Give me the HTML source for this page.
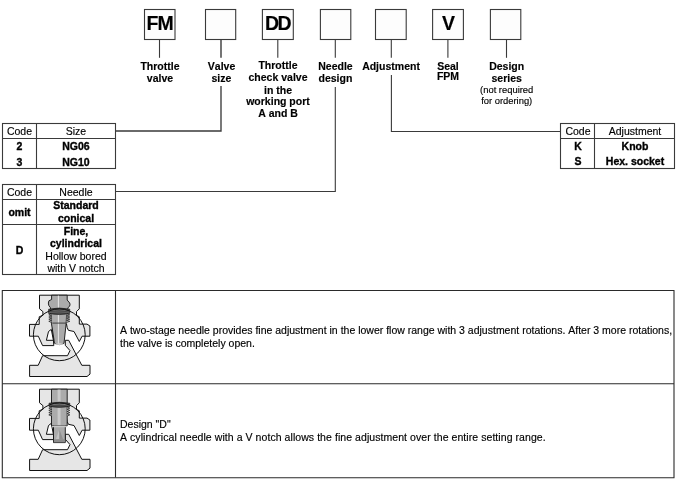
<!DOCTYPE html>
<html><head><meta charset="utf-8">
<style>
html,body{margin:0;padding:0;background:#fff;}
svg{display:block;filter:grayscale(1)}
text{font-family:"Liberation Sans",sans-serif;fill:#000;font-kerning:none;stroke:#000;stroke-width:0.15}
.b{font-weight:bold;stroke-width:0.35}
.l{stroke:#3a3a3a;stroke-width:1.1;fill:none}
.bx{stroke:#3a3a3a;stroke-width:1.1;fill:#fdfdfc}
</style></head><body>
<svg width="680" height="484" viewBox="0 0 680 484">
<rect width="680" height="484" fill="#fff"/>
<!-- code boxes -->
<g class="bx">
<rect x="144.5" y="9.5" width="30.5" height="30"/>
<rect x="205.5" y="9.5" width="30.2" height="30"/>
<rect x="262.4" y="9.5" width="30.9" height="30"/>
<rect x="320.4" y="9.5" width="30.4" height="30"/>
<rect x="375.5" y="9.5" width="30.7" height="30"/>
<rect x="432.6" y="9.5" width="30.8" height="30"/>
<rect x="490.4" y="9.5" width="30.4" height="30"/>
</g>
<g class="l">
<path d="M159.5 40V57.8"/>
<path d="M221 40V57.8" stroke-width="1.4"/>
<path d="M277.8 40V57.8"/>
<path d="M335.3 40V57.8"/>
<path d="M391.3 40V57.8"/>
<path d="M447.9 40V57.8"/>
<path d="M506.5 40V57.8"/>
<path d="M221 86V131H116" stroke-width="1.35"/>
<path d="M335.3 87V191.5H116"/>
<path d="M391.4 75V131.5H560.5"/>
</g>
<g class="b" font-size="19.5" text-anchor="middle" letter-spacing="-1" style="stroke-width:0.15">
<text x="159.6" y="30.4">FM</text>
<text x="277.6" y="30.4" letter-spacing="-1.4">DD</text>
<text x="448" y="30.4">V</text>
</g>
<g class="b" font-size="10.5" text-anchor="middle">
<text x="160" y="69.5">Throttle</text>
<text x="160" y="82">valve</text>
<text x="221.6" y="69.5">Valve</text>
<text x="221.4" y="82">size</text>
<text x="278" y="69.2">Throttle</text>
<text x="278" y="81.1">check valve</text>
<text x="278" y="93.5">in the</text>
<text x="278" y="105.3">working port</text>
<text x="278" y="117.3">A and B</text>
<text x="335.5" y="69.5">Needle</text>
<text x="335.4" y="82">design</text>
<text x="391" y="69.5">Adjustment</text>
<text x="448" y="69.5">Seal</text>
<text x="448" y="80">FPM</text>
<text x="506.7" y="69.5">Design</text>
<text x="506.7" y="82">series</text>
</g>
<g font-size="9.4" text-anchor="middle">
<text x="506.7" y="93.2">(not required</text>
<text x="506.7" y="104.2">for ordering)</text>
</g>
<!-- size table -->
<g class="l">
<rect x="2.5" y="123.5" width="113" height="45"/>
<path d="M2.5 138.5H115.5M36.5 123.5V168.5"/>
</g>
<g font-size="10.5" text-anchor="middle">
<text x="19.5" y="135">Code</text>
<text x="76" y="135">Size</text>
<text class="b" x="19.5" y="150.4">2</text>
<text class="b" x="76" y="150.4">NG06</text>
<text class="b" x="19.5" y="165.5">3</text>
<text class="b" x="76" y="165.5">NG10</text>
</g>
<!-- needle table -->
<g class="l">
<rect x="2.5" y="184.5" width="113" height="90"/>
<path d="M2.5 199.5H115.5M2.5 224.5H115.5M36.5 184.5V274.5"/>
</g>
<g font-size="10.5" text-anchor="middle">
<text x="19.5" y="196">Code</text>
<text x="76" y="196">Needle</text>
<text class="b" x="19.5" y="216">omit</text>
<text class="b" x="76" y="209.3">Standard</text>
<text class="b" x="76" y="222.3">conical</text>
<text class="b" x="19.5" y="253.6">D</text>
<text class="b" x="76" y="234.6">Fine,</text>
<text class="b" x="76" y="247">cylindrical</text>
<text x="76" y="260">Hollow bored</text>
<text x="76" y="272">with V notch</text>
</g>
<!-- adjustment table -->
<g class="l">
<rect x="560.5" y="123.5" width="114" height="45"/>
<path d="M560.5 138.5H674.5M594.5 123.5V168.5"/>
</g>
<g font-size="10.5" text-anchor="middle">
<text x="578" y="135">Code</text>
<text x="635" y="135">Adjustment</text>
<text class="b" x="578" y="150">K</text>
<text class="b" x="635" y="150">Knob</text>
<text class="b" x="578" y="165">S</text>
<text class="b" x="635" y="165">Hex. socket</text>
</g>
<!-- description table -->
<g class="l" style="stroke:#2a2a2a">
<path d="M2.3 290.5V478M674 290.5V478M1.8 290.5H674.5M1.8 477.8H674.5"/>
<path d="M2.3 383.8H674M115.5 290.5V477.5"/>
</g>
<g font-size="10.5">
<text x="120" y="333.5">A two-stage needle provides fine adjustment in the lower flow range with 3 adjustment rotations. After 3 more rotations,</text>
<text x="120" y="346.5">the valve is completely open.</text>
<text x="120" y="428">Design "D"</text>
<text x="120" y="441" letter-spacing="0.065">A cylindrical needle with a V notch allows the fine adjustment over the entire setting range.</text>
</g>
<!--VALVES-->
<g><path d="M39.5 295.2H79.3V308.8L76.5 311.6V315.3L79.3 316.8V324.1H87L89.9 326V336.2H82.1L79.3 341.5L74 331.5L68.4 330.3Q66.9 328 66.5 324H52.3L53.8 345.6H42.6L38.3 336.2H29.5V324.4H39.2V316.8L42.9 315.3V311.6L39.5 308.8Z" fill="#e6e6e5" stroke="#111" stroke-width="1" stroke-linejoin="miter"/>
<path d="M29.6 365.3H38.2L42.6 355.7H67.5L70 350.6L65.3 345.3V340.3H68.7L81.8 365.3H90V374.1L87 376.5H29.6Z" fill="#e6e6e5" stroke="#111" stroke-width="1"/>
<path d="M51.3 329.4L48.5 331.5L46.4 340.3H53.4Z" fill="#fff" stroke="#111" stroke-width="1"/><path d="M51.6 295.2V299.5L48.9 300.8Q47.9 303 48.7 305.3L50.5 307.8V314H51.4V323.1L54.5 343.3Q59.3 346 64 343.3L66.2 323.1L66.6 314H67.8V307.8L69.6 306.3Q70.4 304.5 69.7 303L67.2 300V295.2Z" fill="#a9abaa" stroke="#111" stroke-width="0.9"/>
<ellipse cx="59.3" cy="344" rx="4.2" ry="0.9" fill="#c9cac9"/>
<path d="M58.4 295.6V343.5" stroke="#efefef" stroke-width="0.9"/>
<path d="M52.3 323.1H66.2" stroke="#333" stroke-width="0.9"/>
<path d="M48.6 309.2Q59.3 306.8 69.8 309.2L69.8 313.4Q59.3 315.8 48.6 313.4Z" fill="#4a4a4a" stroke="#111" stroke-width="0.6"/>
<path d="M49 310.6Q59.3 308.6 69.5 311" stroke="#9a9a9a" stroke-width="0.5" fill="none"/>
<path d="M49 312.6Q59.3 311 69.5 312.9" stroke="#888" stroke-width="0.4" fill="none"/>
<path d="M51.4 313.8L48.8 314.88L51.4 315.95L48.8 317.02L51.4 318.10L48.8 319.18L51.4 320.25L48.8 321.32L51.4 322.40" fill="#d0d0d0" stroke="#111" stroke-width="0.7"/>
<path d="M66.6 313.8L69.8 314.88L66.6 315.95L69.8 317.02L66.6 318.10L69.8 319.18L66.6 320.25L69.8 321.32L66.6 322.40" fill="#d0d0d0" stroke="#111" stroke-width="0.7"/><circle cx="59.3" cy="334.8" r="25.9" fill="none" stroke="#111" stroke-width="1"/></g>
<g transform="translate(0,94)"><path d="M39.5 295.2H79.3V308.8L76.5 311.6V315.3L79.3 316.8V324.1H87L89.9 326V336.2H82.1L79.3 341.5L74 331.5L68.4 330.3Q66.9 328 66.5 324H53.5V345.6H42.6L38.3 336.2H29.5V324.4H39.2V316.8L42.9 315.3V311.6L39.5 308.8Z" fill="#e6e6e5" stroke="#111" stroke-width="1" stroke-linejoin="miter"/>
<path d="M29.6 365.3H38.2L42.6 355.7H67.5L70 350.6L65.3 345.3V340.3H68.7L81.8 365.3H90V374.1L87 376.5H29.6Z" fill="#e6e6e5" stroke="#111" stroke-width="1"/>
<path d="M51.3 329.4L48.5 331.5L46.4 340.3H53.4Z" fill="#fff" stroke="#111" stroke-width="1"/><path d="M51.5 295.2V331.8H53.5V348.6H65.3V331.8H67.2V295.2Z" fill="#a9abaa" stroke="#111" stroke-width="0.9"/>
<rect x="57.6" y="295.6" width="3" height="36" fill="#c9cac9"/>
<rect x="52" y="331.6" width="14.8" height="1.6" fill="#d0d0d0"/>
<path d="M51.5 331.6H67.2" stroke="#444" stroke-width="0.6"/>
<path d="M59.4 335.3L55.9 345.3H59.4Z" fill="#c4c5c4"/>
<path d="M59.4 335.3L63 345.3H59.4Z" fill="#8e908f"/>
<rect x="53.9" y="345.3" width="11" height="3" fill="#8a8c8b"/>
<path d="M49 309.2Q59.3 307.2 69.8 309.2L69.8 312.4Q59.3 314.4 49 312.4Z" fill="#4a4a4a" stroke="#111" stroke-width="0.6"/>
<path d="M49.4 310.8Q59.3 309 69.5 311" stroke="#aaa" stroke-width="0.5" fill="none"/>
<path d="M51.5 313L48.8 314.12L51.5 315.25L48.8 316.38L51.5 317.50L48.8 318.62L51.5 319.75L48.8 320.88L51.5 322.00" fill="#d0d0d0" stroke="#111" stroke-width="0.7"/>
<path d="M67.2 313L69.8 314.12L67.2 315.25L69.8 316.38L67.2 317.50L69.8 318.62L67.2 319.75L69.8 320.88L67.2 322.00" fill="#d0d0d0" stroke="#111" stroke-width="0.7"/><circle cx="59.3" cy="334.8" r="25.9" fill="none" stroke="#111" stroke-width="1"/></g>
<!--/VALVES-->
</svg>
</body></html>
